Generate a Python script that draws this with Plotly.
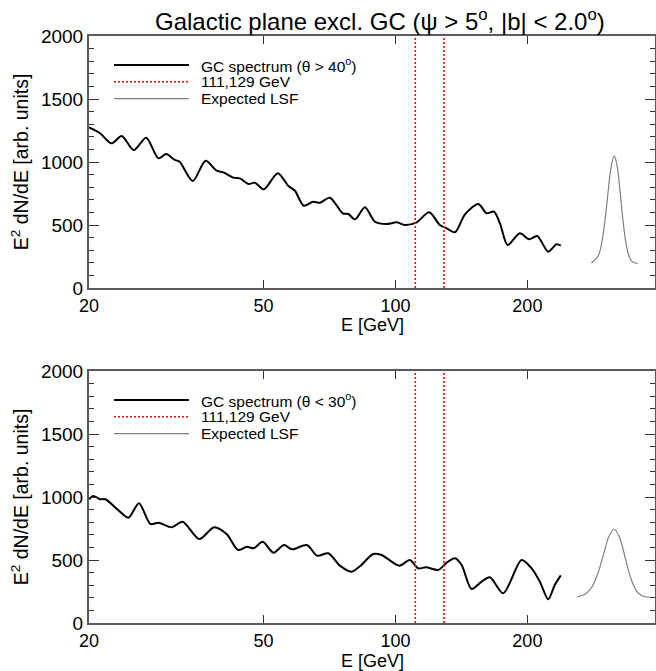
import math
import plotly.graph_objects as go

# ---------------- data ----------------
E_top = [20.0, 21.2, 22.5, 23.75, 25.3, 27.0, 28.8, 30.0, 31.4, 32.2,
         34.5, 36.9, 39.1, 40.5, 42.7, 44.2, 46.2, 47.8, 50.1, 53.9,
         57.0, 59.0, 61.8, 64.9, 67.3, 70.9, 75.8, 78.1, 80.9, 85.2,
         89.8, 95.5, 100.7, 105.1, 111.8, 119.4, 126.3, 130.9, 136.7, 144.1,
         154.6, 161.5, 167.8, 173.2, 180.3, 192.2, 201.9, 210.6, 223.1, 233.1,
         238.4]
v_top = [1275, 1228, 1148, 1206, 1095, 1193, 1029, 1063, 1016, 1002,
         849, 1010, 931, 918, 876, 870, 825, 836, 783, 910,
         810, 772, 653, 685, 677, 717, 593, 587, 545, 640,
         526, 508, 521, 500, 521, 601, 500, 474, 442, 585,
         667, 593, 606, 513, 341, 434, 387, 413, 288, 347,
         336]

E_bot = [20.0, 20.45, 21.2, 21.8, 23.3, 24.6, 26.0, 27.6, 28.8, 30.9,
         32.7, 35.7, 38.6, 41.2, 43.8, 45.8, 47.5, 49.8, 52.7, 55.7,
         58.1, 62.8, 66.3, 70.3, 74.7, 79.4, 83.0, 89.0, 93.0, 102.1,
         107.9, 112.7, 117.4, 125.3, 130.9, 136.7, 141.6, 149.2, 157.3, 164.3,
         176.2, 194.0, 204.5, 213.6, 223.1, 231.0, 238.4]
v_bot = [982, 1008, 982, 982, 897, 836, 950, 786, 796, 760,
         804, 667, 760, 706, 579, 606, 593, 645, 558, 619,
         585, 619, 534, 553, 455, 407, 450, 548, 540, 455,
         500, 434, 442, 421, 479, 513, 460, 270, 328, 363,
         236, 500, 434, 328, 188, 302, 378]

E_lsf_top = [280, 290, 295, 300, 305, 310, 315.6, 320, 325, 330, 335, 340, 345, 350, 357]
v_lsf_top = [200, 253, 343, 508, 732, 944, 1048, 982, 787, 557, 376, 268, 220, 202, 196]

E_lsf_bot = [260, 270, 280, 290, 300, 307, 315.6, 325, 335, 345, 355, 365, 380]
v_lsf_bot = [208, 226, 280, 400, 575, 686, 744, 675, 506, 347, 253, 216, 204]

line_E = [111, 129]
y_range = [0, 2000]
y_ticks = [0, 500, 1000, 1500, 2000]
x_range = [20, 391]
x_ticks = [20, 50, 100, 200]
x_ticktext = ["20", "50", "100", "200"]

title_text = "Galactic plane excl. GC (\u03c8 > 5<sup>o</sup>, |b| < 2.0<sup>o</sup>)"
x_title = "E [GeV]"
y_title = "E<sup>2</sup> dN/dE [arb. units]"
legend_top = ["GC spectrum (\u03b8 > 40<sup>o</sup>)", "111,129 GeV", "Expected LSF"]
legend_bot = ["GC spectrum (\u03b8 < 30<sup>o</sup>)", "111,129 GeV", "Expected LSF"]

# ---------------- layout geometry ----------------
W, H = 656, 671
L, R = 89, 1
FONT = "Liberation Sans, Arial, Helvetica, sans-serif"


def px_y(y):
    return 1 - y / H


def px_x(x):
    return (x - L) / (W - L - R)


top_dom = [px_y(288), px_y(36)]
bot_dom = [px_y(623), px_y(371)]

fig = go.Figure()

SPEC = dict(color="black", width=2)
RED = dict(color="#ff0000", width=1.6, dash="2px,2px")
GRAY = dict(color="#808080", width=1.2)

for xa, ya, E, v, El, vl in [("x", "y", E_top, v_top, E_lsf_top, v_lsf_top),
                             ("x2", "y2", E_bot, v_bot, E_lsf_bot, v_lsf_bot)]:
    fig.add_trace(go.Scatter(x=E, y=v, mode="lines", line=dict(SPEC, shape="spline", smoothing=0.8),
                             xaxis=xa, yaxis=ya, showlegend=False, hoverinfo="skip"))
    for e in line_E:
        fig.add_trace(go.Scatter(x=[e, e], y=y_range, mode="lines", line=RED,
                                 xaxis=xa, yaxis=ya, showlegend=False, hoverinfo="skip"))
    fig.add_trace(go.Scatter(x=El, y=vl, mode="lines", line=dict(GRAY, shape="spline", smoothing=1.0),
                             xaxis=xa, yaxis=ya, showlegend=False, hoverinfo="skip"))

axis_common = dict(
    showgrid=False, zeroline=False, showline=True, linecolor="#5a5a5a", linewidth=2,
    mirror="ticks", ticks="inside", tickcolor="#333333", tickwidth=1.3, automargin=False,
)
xaxis_kw = dict(axis_common, type="log", range=[math.log10(x_range[0]), math.log10(x_range[1])],
                tickvals=x_ticks, ticktext=x_ticktext, ticklen=8, domain=[0, 1],
                ticklabelstandoff=0, tickfont=dict(family=FONT, size=18, color="black"))
yaxis_kw = dict(axis_common, range=y_range, tickvals=y_ticks, ticklen=10,
                tickfont=dict(family=FONT, size=19, color="black"),
                minor=dict(dtick=100, ticks="inside", ticklen=5, tickcolor="#333333", tickwidth=1.3),
                title=dict(text=y_title, font=dict(family=FONT, size=19.5, color="black"), standoff=7))

fig.update_layout(
    width=W, height=H,
    margin=dict(l=L, r=R, t=0, b=0, autoexpand=False),
    paper_bgcolor="white", plot_bgcolor="white",
    showlegend=False,
    xaxis=dict(xaxis_kw, anchor="y"),
    yaxis=dict(yaxis_kw, domain=top_dom, anchor="x"),
    xaxis2=dict(xaxis_kw, anchor="y2"),
    yaxis2=dict(yaxis_kw, domain=bot_dom, anchor="x2"),
)

# title
fig.add_annotation(text=title_text, x=px_x(380), y=px_y(20), xref="paper", yref="paper",
                   xanchor="center", yanchor="middle", showarrow=False,
                   font=dict(family=FONT, size=24, color="black"))

# x-axis titles
for yy in (325, 661):
    fig.add_annotation(text=x_title, x=0.5, y=px_y(yy), xref="paper", yref="paper",
                       xanchor="center", yanchor="middle", showarrow=False,
                       font=dict(family=FONT, size=18, color="black"))

# manual legends
styles = [SPEC, RED, GRAY]
for texts, top in [(legend_top, 36), (legend_bot, 371)]:
    for i, (t, st) in enumerate(zip(texts, styles)):
        yy = px_y(top + 29 + 16.8 * i)
        fig.add_shape(type="line", xref="paper", yref="paper",
                      x0=px_x(114), x1=px_x(189), y0=yy, y1=yy, line=st)
        fig.add_annotation(text=t, x=px_x(199), y=yy, xref="paper", yref="paper",
                           xanchor="left", yanchor="middle", showarrow=False,
                           font=dict(family=FONT, size=15.5, color="black"))

fig.write_html("out.html")
